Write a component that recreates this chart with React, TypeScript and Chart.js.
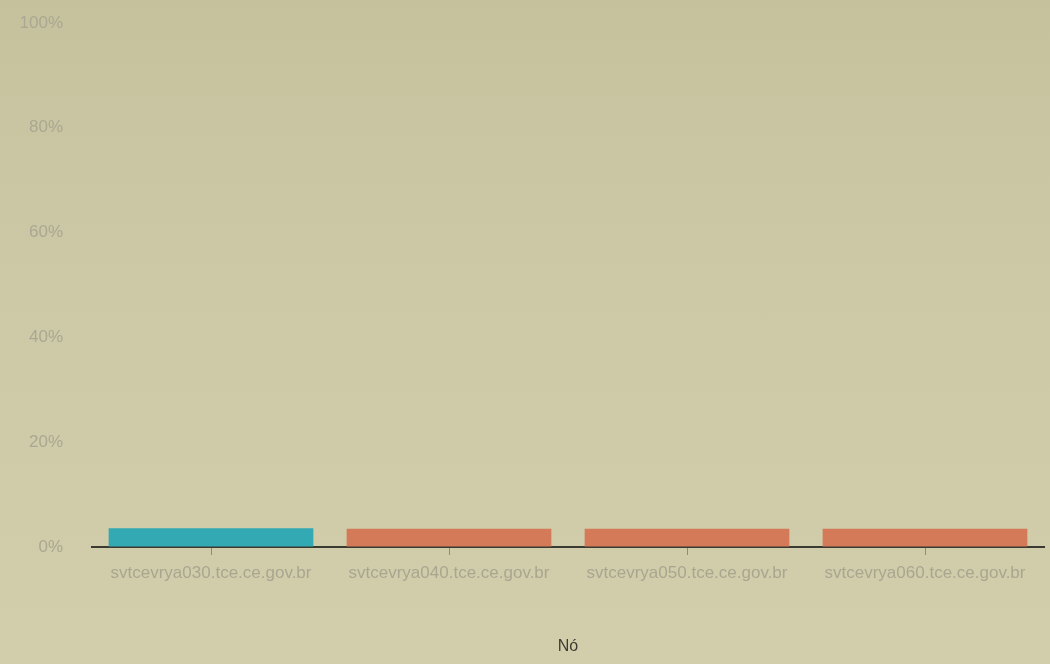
import React, { useEffect, useRef } from "react";
import { Chart, registerables } from "chart.js";

Chart.register(...registerables);

const categories = [
  "svtcevrya030.tce.ce.gov.br",
  "svtcevrya040.tce.ce.gov.br",
  "svtcevrya050.tce.ce.gov.br",
  "svtcevrya060.tce.ce.gov.br",
];
const values = [3.6, 3.5, 3.5, 3.5];
const barColors = ["#32a9b3", "#d47a58", "#d47a58", "#d47a58"];
const yTicks = [0, 20, 40, 60, 80, 100];
const xTitle = "Nó";

const fontFamily = "'Liberation Sans', Arial, sans-serif";

export default function App() {
  const ref = useRef<HTMLCanvasElement | null>(null);

  useEffect(() => {
    document.body.style.margin = "0";
    const canvas = ref.current;
    if (!canvas) return;
    const chart = new Chart(canvas, {
      type: "bar",
      data: {
        labels: categories,
        datasets: [
          {
            data: values,
            backgroundColor: barColors,
            borderWidth: 0,
            barPercentage: 0.86,
            categoryPercentage: 1,
          },
        ],
      },
      options: {
        animation: false,
        responsive: false,
        maintainAspectRatio: false,
        plugins: { legend: { display: false }, tooltip: { enabled: false } },
        layout: { padding: { top: 23, right: 6, bottom: 6, left: 4 } },
        scales: {
          x: {
            offset: true,
            grid: {
              offset: false,
              drawOnChartArea: false,
              drawTicks: true,
              tickLength: 8,
              color: "#8f8b78",
            },
            border: { display: true, color: "#3a3a32", width: 2 },
            ticks: {
              color: "#a9a690",
              padding: 8,
              font: { family: fontFamily, size: 17 },
              maxRotation: 0,
              autoSkip: false,
            },
            title: {
              display: true,
              text: xTitle,
              color: "#3d3b33",
              font: { family: fontFamily, size: 16 },
              padding: { top: 4, bottom: 2 },
            },
            afterFit: (scale: any) => {
              scale.height = 111;
            },
          },
          y: {
            min: 0,
            max: 100,
            afterBuildTicks: (scale: any) => {
              scale.ticks = yTicks.map((v) => ({ value: v }));
            },
            grid: {
              display: true,
              drawOnChartArea: false,
              drawTicks: true,
              tickLength: 26,
              color: "rgba(0,0,0,0)",
            },
            border: { display: false },
            ticks: {
              color: "#aaa792",
              padding: 3,
              font: { family: fontFamily, size: 17 },
              callback: (v: any) => v + "%",
            },
            afterFit: (scale: any) => {
              scale.width = 88;
            },
          },
        },
      },
    });
    return () => chart.destroy();
  }, []);

  return (
    <div
      style={{
        width: 1050,
        height: 664,
        background: "linear-gradient(180deg, #c6c19d 0%, #cdc9a7 45%, #d2cdab 100%)",
      }}
    >
      <canvas ref={ref} width={1050} height={664} style={{ display: "block" }} />
    </div>
  );
}
